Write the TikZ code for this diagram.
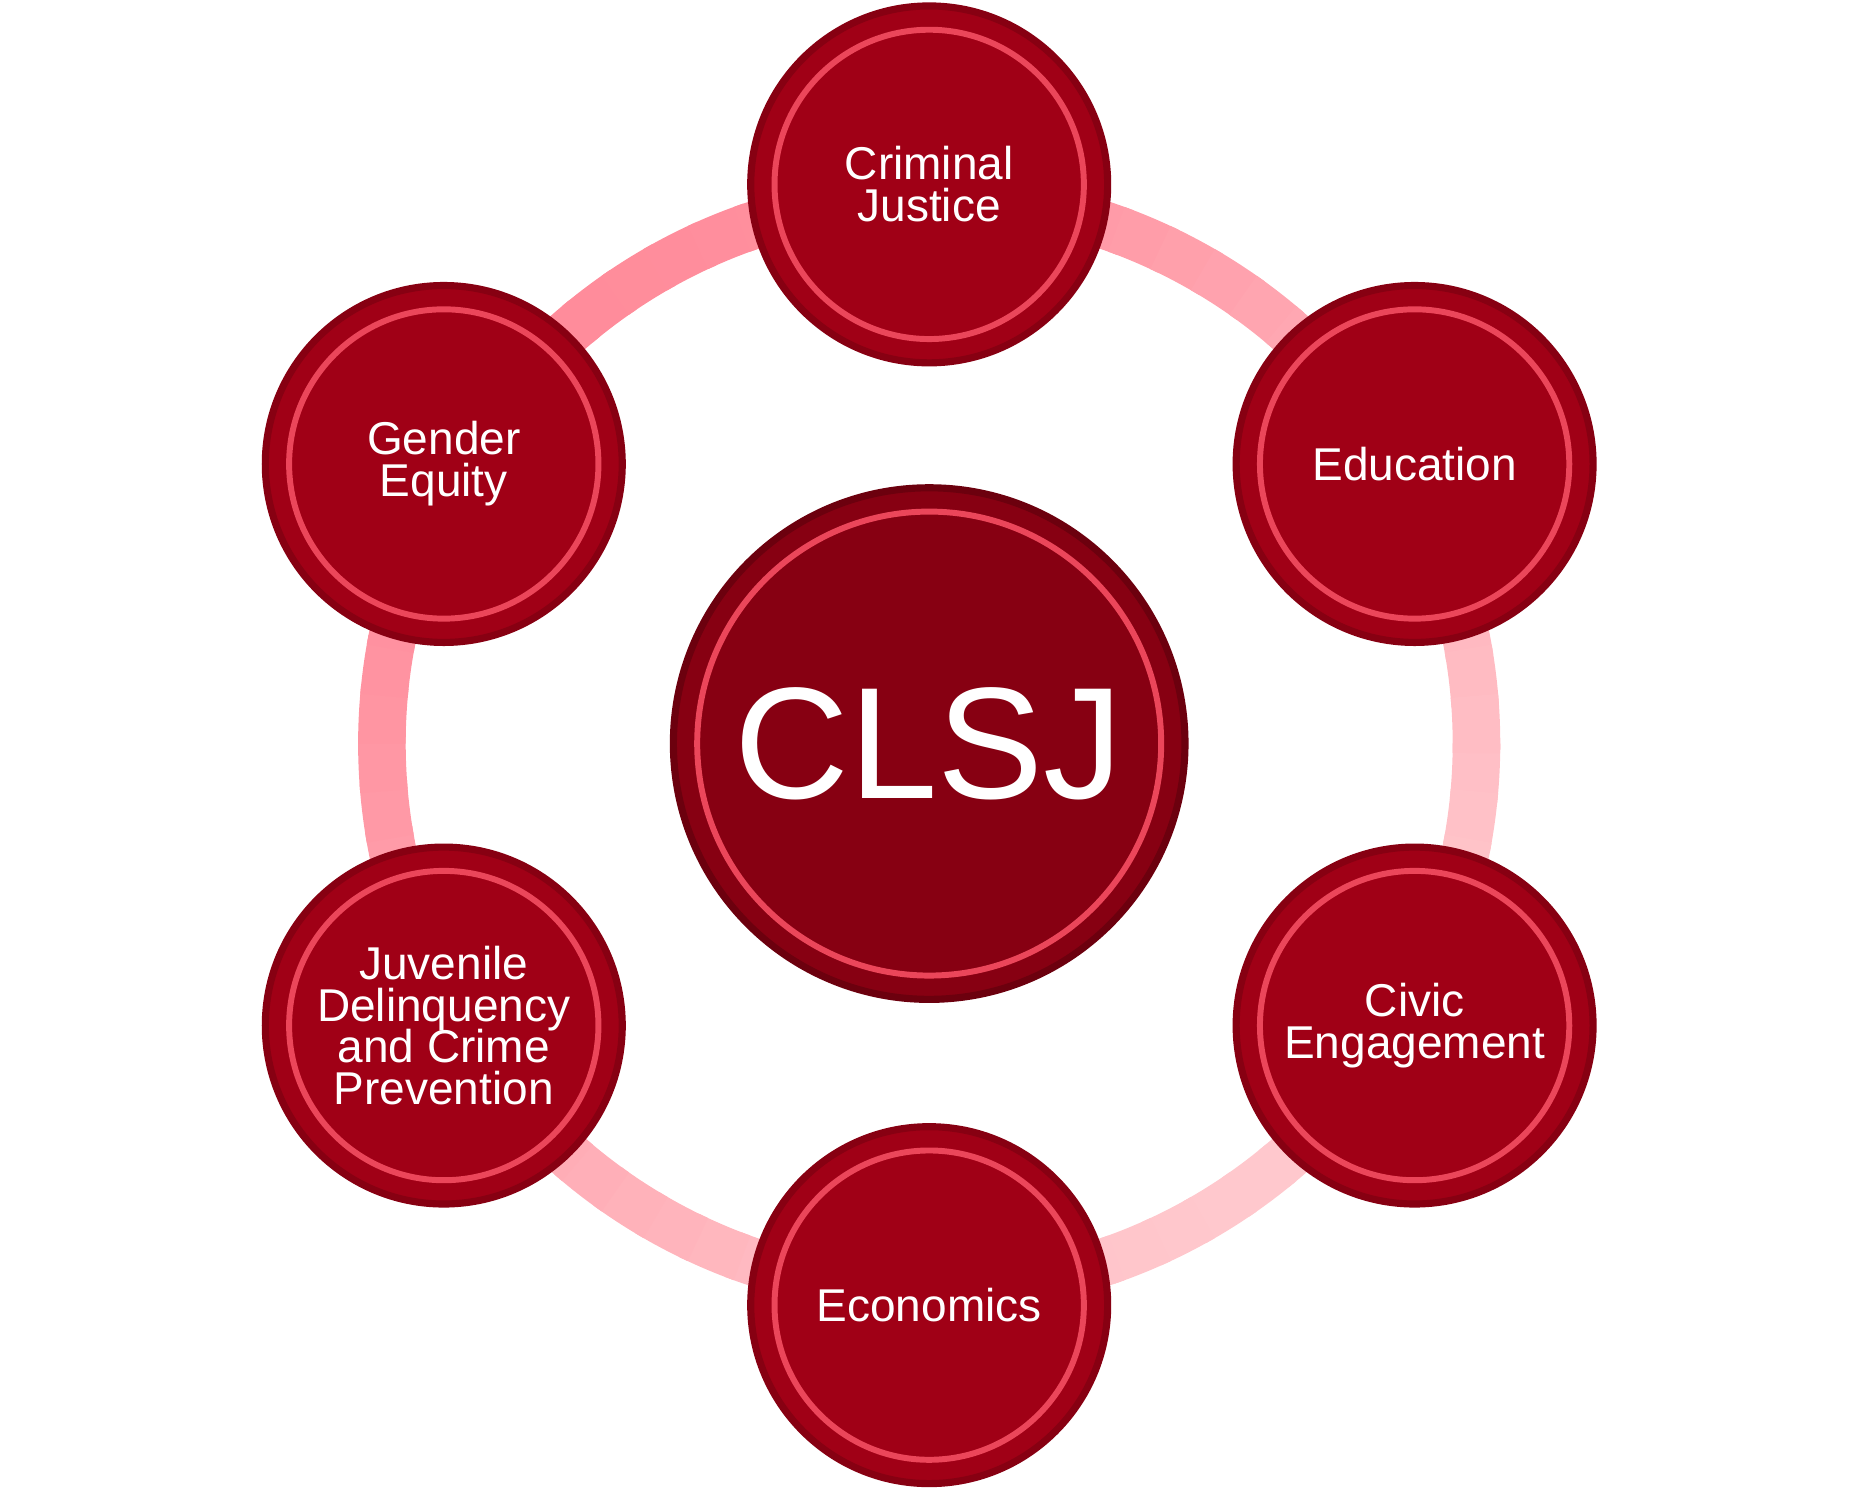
\documentclass[tikz,border=0pt]{standalone}
\usepackage{fontspec}
\setmainfont{Liberation Sans}
\usetikzlibrary{positioning}
\definecolor{ringpink}{RGB}{255,140,155}
\definecolor{ringlight}{RGB}{255,200,205}
\definecolor{topicred}{RGB}{160,0,22}
\definecolor{hubred}{RGB}{135,0,18}
\definecolor{rimred}{RGB}{235,70,90}
\tikzset{
	topic/.style={circle, minimum size=30mm, fill=topicred, draw=hubred, line width=0.6mm,
		text=white, align=center, font=\fontsize{11}{12}\selectfont,
		path picture={\draw[rimred, line width=0.5mm] (path picture bounding box.center) circle (13mm);}},
	hub/.style={circle, minimum size=43mm, fill=hubred, draw=hubred!80!black, line width=0.6mm,
		text=white, font=\fontsize{38}{40}\selectfont,
		path picture={\draw[rimred, line width=0.5mm] (path picture bounding box.center) circle (19.5mm);}}
}
\begin{document}
\begin{tikzpicture}[x=0.1mm, y=-0.1mm]
   \useasboundingbox (0,0) rectangle (1560,1250);
   \coordinate (C) at (781,625);
   % ring behind the topics
   \foreach \a in {0,5,...,355} {
      \pgfmathsetmacro{\mixv}{50+50*cos(\a+135)}
      \draw[ringpink!\mixv!ringlight, line width=4mm] ([shift={(\a:460)}]C) arc[start angle=\a, end angle=\a+6, radius=460];
   }
   \node[hub] (hub) at (C) {CLSJ};
   \node[topic] (crim) at (781,155) {Criminal\\[-2pt]Justice};
   \node[topic] (edu) at (1189,390) {Education};
   \node[topic] (civ) at (1189,862) {Civic\\[-2pt]Engagement};
   \node[topic] (econ) at (781,1097) {Economics};
   \node[topic] (juv) at (373,862) {Juvenile\\[-2pt]Delinquency\\[-2pt]and Crime\\[-2pt]Prevention};
   \node[topic] (gen) at (373,390) {Gender\\[-2pt]Equity};
\end{tikzpicture}
\end{document}
